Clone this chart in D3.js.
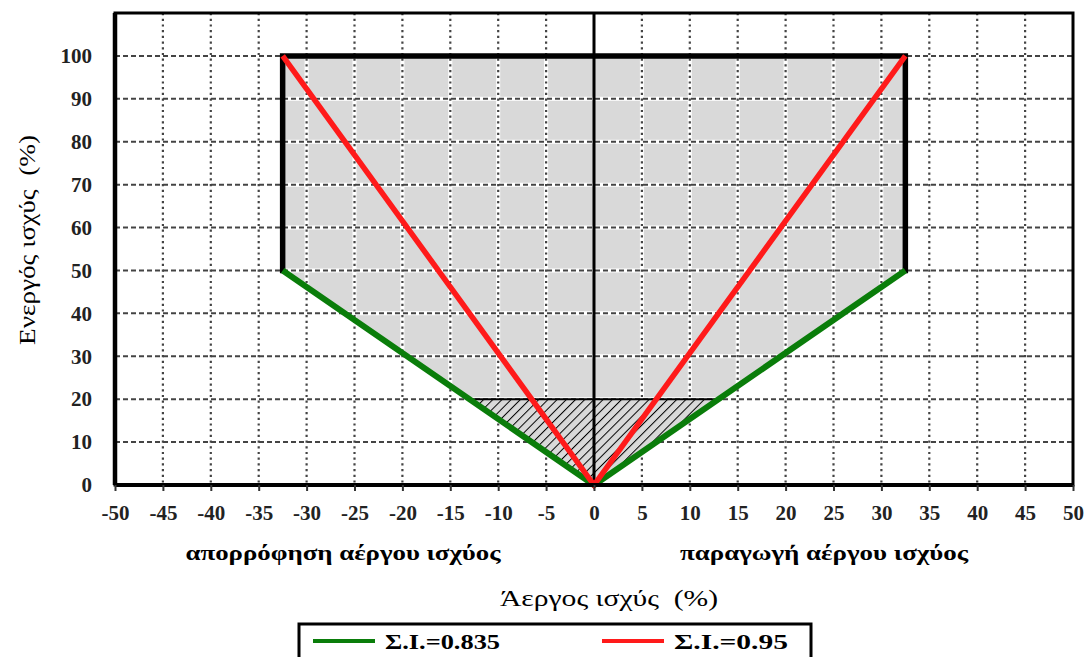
<!DOCTYPE html>
<html>
<head>
<meta charset="utf-8">
<script src="https://cdn.jsdelivr.net/npm/d3@7"></script>
<style>
  body { margin: 0; background: #fff; }
  svg { display: block; }
  svg text { font-family: "Liberation Serif", "Times New Roman", "DejaVu Serif", serif !important; white-space: pre; }
</style>
</head>
<body>
<div id="chart"></div>
<script>
// tick values
const xTicks = [-50, -45, -40, -35, -30, -25, -20, -15, -10, -5, 0, 5, 10, 15, 20, 25, 30, 35, 40, 45, 50];
const yTicks = [0, 10, 20, 30, 40, 50, 60, 70, 80, 90, 100];

// operating envelope (Q %, P %)
const envelope = [[0, 0], [-32.5, 50], [-32.5, 100], [32.5, 100], [32.5, 50], [0, 0]];
// black limits (vertical Q limits + top P limit)
const limitLine = [[-32.5, 50], [-32.5, 100], [32.5, 100], [32.5, 50]];
// Σ.Ι.=0.835 line
const pf835 = [[-32.5, 50], [0, 0], [32.5, 50]];
// Σ.Ι.=0.95 line
const pf095 = [[-32.5, 100], [0, 0], [32.5, 100]];
// hatched region below 20%
const hatchArea = [[0, 0], [-13, 20], [13, 20]];
const minLine = [[-13, 20], [13, 20]];

const legendItems = [
  { label: "Σ.Ι.=0.835", color: "#0a7d0a" },
  { label: "Σ.Ι.=0.95", color: "#ff1a1a" }
];

const width = 1089, height = 657;
const mLeft = 115, mRight = 1073, mTop = 13, mBottom = 485;

const svg = d3.select("#chart").append("svg")
  .attr("width", width).attr("height", height);

const x = d3.scaleLinear().domain([-50, 50]).range([mLeft, mRight]);
const y = d3.scaleLinear().domain([0, 110]).range([mBottom, mTop]);

const defs = svg.append("defs");
const hs = 6.5;
const pat = defs.append("pattern")
  .attr("id", "hatch")
  .attr("patternUnits", "userSpaceOnUse")
  .attr("width", hs).attr("height", hs)
  .attr("patternTransform", "rotate(45)");
pat.append("rect").attr("width", hs).attr("height", hs).attr("fill", "#d9d9d9");
pat.append("line")
  .attr("x1", 0).attr("y1", 0).attr("x2", 0).attr("y2", hs)
  .attr("stroke", "#000").attr("stroke-width", 2);

const line = d3.line().x(d => x(d[0])).y(d => y(d[1]));

// grey envelope
svg.append("path")
  .attr("d", line(envelope) + "Z")
  .attr("fill", "#d9d9d9");

// grid
const grid = svg.append("g");
const vTicks = xTicks.filter(t => t > -50 && t < 50 && t !== 0);
const hTicks = yTicks.filter(t => t > 0);

grid.selectAll(".vbg").data(vTicks).enter().append("line")
  .attr("x1", d => x(d)).attr("x2", d => x(d))
  .attr("y1", y(110)).attr("y2", y(0))
  .attr("stroke", "#fff").attr("stroke-width", 4);
grid.selectAll(".hbg").data(hTicks).enter().append("line")
  .attr("x1", x(-50)).attr("x2", x(50))
  .attr("y1", d => y(d)).attr("y2", d => y(d))
  .attr("stroke", "#fff").attr("stroke-width", 4);
grid.selectAll(".v").data(vTicks).enter().append("line")
  .attr("x1", d => x(d)).attr("x2", d => x(d))
  .attr("y1", y(110)).attr("y2", y(0))
  .attr("stroke", "#444").attr("stroke-width", 2.2)
  .attr("stroke-dasharray", "2.2,3.5");
grid.selectAll(".h").data(hTicks).enter().append("line")
  .attr("x1", x(-50)).attr("x2", x(50))
  .attr("y1", d => y(d)).attr("y2", d => y(d))
  .attr("stroke", "#444").attr("stroke-width", 2)
  .attr("stroke-dasharray", "5,3");

// hatched region
svg.append("path")
  .attr("d", line(hatchArea) + "Z")
  .attr("fill", "url(#hatch)");
svg.append("path")
  .attr("d", line(minLine))
  .attr("stroke", "#000").attr("stroke-width", 2).attr("fill", "none");

// zero line
svg.append("line")
  .attr("x1", x(0)).attr("x2", x(0))
  .attr("y1", y(110)).attr("y2", y(0))
  .attr("stroke", "#000").attr("stroke-width", 3);

// limits
svg.append("path")
  .attr("d", line(limitLine))
  .attr("stroke", "#000").attr("stroke-width", 5.5)
  .attr("fill", "none").attr("stroke-linecap", "square");

svg.append("path")
  .attr("d", line(pf835))
  .attr("stroke", legendItems[0].color).attr("stroke-width", 6)
  .attr("fill", "none").attr("stroke-linejoin", "miter");

svg.append("path")
  .attr("d", line(pf095))
  .attr("stroke", legendItems[1].color).attr("stroke-width", 5.5)
  .attr("fill", "none");

// frame
svg.append("rect")
  .attr("x", mLeft).attr("y", mTop)
  .attr("width", mRight - mLeft).attr("height", mBottom - mTop)
  .attr("fill", "none").attr("stroke", "#000").attr("stroke-width", 3);
svg.append("line")
  .attr("x1", mLeft).attr("x2", mLeft).attr("y1", mTop).attr("y2", mBottom)
  .attr("stroke", "#000").attr("stroke-width", 4.5);
svg.append("line")
  .attr("x1", mLeft).attr("x2", mRight).attr("y1", mBottom).attr("y2", mBottom)
  .attr("stroke", "#000").attr("stroke-width", 4);

// axes
const xAxis = svg.append("g")
  .attr("transform", `translate(0,${mBottom})`)
  .call(d3.axisBottom(x).tickValues(xTicks).tickFormat(d => String(d)).tickSize(6).tickPadding(14));
xAxis.select(".domain").remove();
xAxis.selectAll(".tick line").attr("stroke", "#333").attr("stroke-width", 2);
xAxis.selectAll("text")
  .attr("font-size", 21).attr("font-weight", "bold").attr("fill", "#222");

const yAxis = svg.append("g")
  .attr("transform", `translate(${mLeft},0)`)
  .call(d3.axisLeft(y).tickValues(yTicks).tickSize(0).tickPadding(23));
yAxis.select(".domain").remove();
yAxis.selectAll("text")
  .attr("font-size", 21).attr("font-weight", "bold").attr("fill", "#222");

// labels
svg.append("text")
  .attr("transform", "translate(35,240) rotate(-90)")
  .attr("text-anchor", "middle")
  .attr("font-size", 24)
  .attr("textLength", 210).attr("lengthAdjust", "spacingAndGlyphs")
  .text("Ενεργός ισχύς  (%)");

svg.append("text")
  .attr("x", 343).attr("y", 560)
  .attr("text-anchor", "middle")
  .attr("font-size", 21).attr("font-weight", "bold")
  .attr("textLength", 315).attr("lengthAdjust", "spacingAndGlyphs")
  .text("απορρόφηση αέργου ισχύος");

svg.append("text")
  .attr("x", 824).attr("y", 560)
  .attr("text-anchor", "middle")
  .attr("font-size", 21).attr("font-weight", "bold")
  .attr("textLength", 288).attr("lengthAdjust", "spacingAndGlyphs")
  .text("παραγωγή αέργου ισχύος");

svg.append("text")
  .attr("x", 609).attr("y", 606)
  .attr("text-anchor", "middle")
  .attr("font-size", 24)
  .attr("textLength", 218).attr("lengthAdjust", "spacingAndGlyphs")
  .text("Άεργος ισχύς  (%)");

// legend
const legend = svg.append("g");
legend.append("rect")
  .attr("x", 299).attr("y", 624)
  .attr("width", 512).attr("height", 50)
  .attr("fill", "#fff").attr("stroke", "#000").attr("stroke-width", 3);

const legX = [313, 602];
const legW = [115, 114];
legendItems.forEach((d, i) => {
  legend.append("line")
    .attr("x1", legX[i]).attr("x2", legX[i] + 62)
    .attr("y1", 641).attr("y2", 641)
    .attr("stroke", d.color).attr("stroke-width", 4);
  legend.append("text")
    .attr("x", legX[i] + 72).attr("y", 649)
    .attr("font-size", 21).attr("font-weight", "bold")
    .attr("textLength", legW[i]).attr("lengthAdjust", "spacingAndGlyphs")
    .text(d.label);
});
</script>
</body>
</html>
